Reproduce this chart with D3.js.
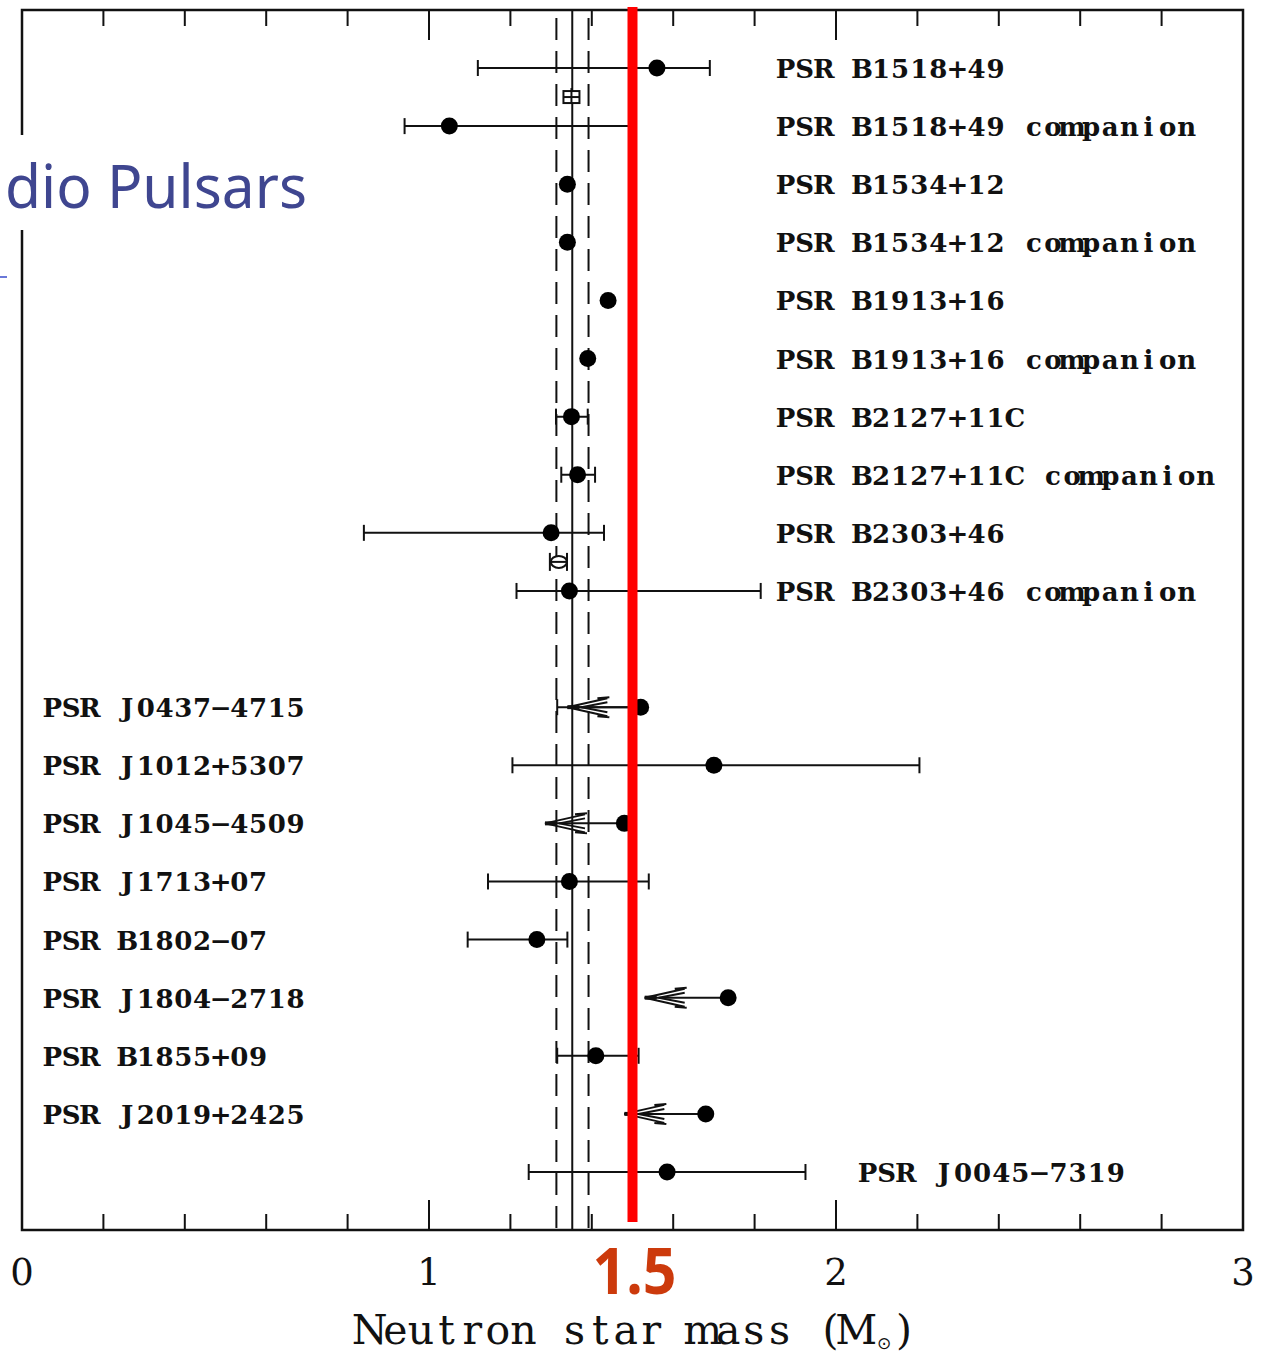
<!DOCTYPE html>
<html>
<head>
<meta charset="utf-8">
<script src="https://cdn.jsdelivr.net/npm/d3@7"></script>
<style>
  html, body { margin: 0; padding: 0; background: #fff; }
  svg { display: block; }
</style>
</head>
<body>
<div id="chart"></div>
<script>
// row data (masses in solar masses)
var pulsarNames = [
  "PSR B1518+49", "PSR B1518+49 companion", "PSR B1534+12", "PSR B1534+12 companion",
  "PSR B1913+16", "PSR B1913+16 companion", "PSR B2127+11C", "PSR B2127+11C companion",
  "PSR B2303+46", "PSR B2303+46 companion",
  "PSR J0437\u22124715", "PSR J1012+5307", "PSR J1045\u22124509", "PSR J1713+07",
  "PSR B1802\u221207", "PSR J1804\u22122718", "PSR B1855+09", "PSR J2019+2425", "PSR J0045\u22127319"
];
var rowSlots = [0, 1, 2, 3, 4, 5, 6, 7, 8, 9, 11, 12, 13, 14, 15, 16, 17, 18, 19];
var masses = [1.56, 1.05, 1.34, 1.34, 1.44, 1.39, 1.35, 1.365, 1.30, 1.345,
              1.52, 1.70, 1.48, 1.345, 1.265, 1.735, 1.41, 1.68, 1.585];
var barLow = [1.12, 0.94, null, null, null, null, 1.312, 1.325, 0.84, 1.215,
              1.315, 1.205, null, 1.145, 1.095, null, 1.315, null, 1.245];
var barHigh = [1.69, 1.50, null, null, null, null, 1.39, 1.408, 1.43, 1.815,
               null, 2.205, null, 1.54, 1.34, null, 1.515, null, 1.925];
var limitTips = [null, null, null, null, null, null, null, null, null, null,
                 1.34, null, 1.285, null, null, 1.53, null, 1.48, null];
var labelSides = ["right", "right", "right", "right", "right", "right", "right", "right", "right", "right",
                  "left", "left", "left", "left", "left", "left", "left", "left", "far"];

// open "total mass" symbols between companion rows
var totalSlots = [0.5, 8.5];
var totalMasses = [1.35, 1.319];
var totalLow = [null, 1.297];
var totalHigh = [null, 1.339];
var totalShapes = ["box", "ring"];

var majorTicks = [0, 1, 2, 3];
var minorTicks = [0.2, 0.4, 0.6, 0.8, 1.2, 1.4, 1.6, 1.8, 2.2, 2.4, 2.6, 2.8];
var meanMass = 1.352;
var meanBand = [1.313, 1.392];
var highlightMass = 1.5;

(function () {
  var W = 1265, H = 1356;
  var frame = { left: 22, right: 1243, top: 10, bottom: 1230 };
  var serif = "'DejaVu Serif', 'Liberation Serif', serif";

  var x = d3.scaleLinear().domain([0, 3]).range([frame.left, frame.right]);
  var y = d3.scaleLinear().domain([0, 19]).range([68, 1172]);

  var svg = d3.select("#chart").append("svg")
    .attr("width", W)
    .attr("height", H)
    .attr("viewBox", "0 0 " + W + " " + H);

  svg.append("rect").attr("width", W).attr("height", H).attr("fill", "#fff");

  // frame
  svg.append("rect")
    .attr("x", frame.left).attr("y", frame.top)
    .attr("width", frame.right - frame.left).attr("height", frame.bottom - frame.top)
    .attr("fill", "none").attr("stroke", "#111").attr("stroke-width", 2.5);

  // ticks on top and bottom
  var tickG = svg.append("g").attr("stroke", "#111").attr("stroke-width", 2);
  function drawTicks(values, len) {
    values.forEach(function (v) {
      if (v === 0 || v === 3) return;
      tickG.append("line").attr("x1", x(v)).attr("x2", x(v))
        .attr("y1", frame.top).attr("y2", frame.top + len);
      tickG.append("line").attr("x1", x(v)).attr("x2", x(v))
        .attr("y1", frame.bottom).attr("y2", frame.bottom - len);
    });
  }
  drawTicks(minorTicks, 16);
  drawTicks(majorTicks, 30);

  // mean mass and band
  var refG = svg.append("g").attr("stroke", "#111").attr("stroke-width", 2).attr("fill", "none");
  refG.append("line").attr("x1", x(meanMass)).attr("x2", x(meanMass))
    .attr("y1", frame.top).attr("y2", frame.bottom);
  meanBand.forEach(function (v) {
    refG.append("line").attr("x1", x(v)).attr("x2", x(v))
      .attr("y1", frame.top + 8).attr("y2", frame.bottom)
      .attr("stroke-dasharray", "22,11");
  });

  // error bars, limits, points
  var rowG = svg.append("g").attr("stroke", "#111").attr("stroke-width", 2).attr("fill", "none");
  masses.forEach(function (m, i) {
    var cy = y(rowSlots[i]);
    var cx = x(m);
    if (barLow[i] != null) {
      var hi = barHigh[i] != null ? barHigh[i] : m;
      rowG.append("line").attr("x1", x(barLow[i])).attr("x2", x(hi)).attr("y1", cy).attr("y2", cy);
      rowG.append("line").attr("x1", x(barLow[i])).attr("x2", x(barLow[i])).attr("y1", cy - 8).attr("y2", cy + 8);
      if (barHigh[i] != null) {
        rowG.append("line").attr("x1", x(hi)).attr("x2", x(hi)).attr("y1", cy - 8).attr("y2", cy + 8);
      }
    }
    if (limitTips[i] != null) {
      var xt = x(limitTips[i]);
      rowG.append("line").attr("x1", xt).attr("x2", cx).attr("y1", cy).attr("y2", cy);
      rowG.append("path")
        .attr("d", "M" + (xt + 40) + "," + (cy - 9) + " L" + xt + "," + cy + " L" + (xt + 40) + "," + (cy + 9) +
          " M" + (xt + 40) + "," + (cy - 5) + " L" + (xt + 14) + "," + cy + " L" + (xt + 40) + "," + (cy + 5) +
          " M" + (xt + 30) + "," + (cy - 9) + " L" + (xt + 42) + "," + (cy - 10) +
          " M" + (xt + 30) + "," + (cy + 9) + " L" + (xt + 42) + "," + (cy + 10));
      rowG.append("line").attr("x1", xt).attr("x2", xt + 12).attr("y1", cy).attr("y2", cy)
        .attr("stroke-width", 4);
    }
    svg.append("circle").attr("cx", cx).attr("cy", cy).attr("r", 8.5).attr("fill", "#000");
  });

  // total-mass open symbols
  totalMasses.forEach(function (m, i) {
    var cy = y(totalSlots[i]);
    var cx = x(m);
    if (totalLow[i] != null) {
      rowG.append("line").attr("x1", x(totalLow[i])).attr("x2", x(totalHigh[i])).attr("y1", cy).attr("y2", cy);
      [totalLow[i], totalHigh[i]].forEach(function (v) {
        rowG.append("line").attr("x1", x(v)).attr("x2", x(v)).attr("y1", cy - 9).attr("y2", cy + 9);
      });
    }
    if (totalShapes[i] === "box") {
      rowG.append("rect").attr("x", cx - 8).attr("y", cy - 6).attr("width", 16).attr("height", 12)
        .attr("fill", "#fff");
      rowG.append("line").attr("x1", cx - 8).attr("x2", cx + 8).attr("y1", cy).attr("y2", cy);
      rowG.append("line").attr("x1", cx).attr("x2", cx).attr("y1", cy - 9).attr("y2", cy + 6);
    } else {
      rowG.append("ellipse").attr("cx", cx).attr("cy", cy).attr("rx", 8).attr("ry", 6).attr("fill", "#fff");
      rowG.append("line").attr("x1", cx - 8).attr("x2", cx + 8).attr("y1", cy).attr("y2", cy);
    }
  });

  // one glyph per cell, like the old plotting font
  function cellText(str, x0, yBase, adv, size, weight) {
    var chars = Array.from(str);
    return svg.append("text")
      .attr("x", chars.map(function (c, k) { return x0 + adv * (k + 0.5); }).join(" "))
      .attr("y", yBase)
      .attr("text-anchor", "middle")
      .attr("font-family", serif)
      .attr("font-size", size)
      .attr("font-weight", weight || "normal")
      .attr("fill", "#111")
      .text(str);
  }

  pulsarNames.forEach(function (name, i) {
    var side = labelSides[i];
    var x0 = side === "right" ? 776 : (side === "left" ? 43 : 858);
    var adv = side === "left" ? 18.7 : 19.1;
    cellText(name, x0, y(rowSlots[i]) + 10, adv, 26, "bold");
  });

  // the 1.5 marker
  svg.append("line")
    .attr("x1", x(highlightMass)).attr("x2", x(highlightMass))
    .attr("y1", 7).attr("y2", 1222)
    .attr("stroke", "#ff0000").attr("stroke-width", 10);

  // axis numbers and title
  majorTicks.forEach(function (v) {
    svg.append("text")
      .attr("x", x(v)).attr("y", 1285)
      .attr("text-anchor", "middle")
      .attr("font-family", serif)
      .attr("font-size", 37)
      .attr("fill", "#111")
      .text(d3.format("d")(v));
  });

  svg.append("text")
    .attr("x", x(highlightMass) + 2).attr("y", 1294)
    .attr("text-anchor", "middle")
    .attr("font-family", "'Noto Sans', 'DejaVu Sans', sans-serif")
    .attr("font-weight", "bold")
    .attr("font-size", 64)
    .attr("textLength", 84)
    .attr("lengthAdjust", "spacingAndGlyphs")
    .attr("fill", "#cc3a0c")
    .text("1.5");

  cellText("Neutron star mass (M", 357, 1344, 25.6, 41);
  svg.append("text")
    .attr("x", 884).attr("y", 1349)
    .attr("text-anchor", "middle")
    .attr("font-family", "'DejaVu Sans', sans-serif")
    .attr("font-size", 17)
    .attr("fill", "#111")
    .text("\u2299");
  svg.append("text")
    .attr("x", 904).attr("y", 1344)
    .attr("text-anchor", "middle")
    .attr("font-family", serif)
    .attr("font-size", 41)
    .attr("fill", "#111")
    .text(")");

  // slide title fragment overlapping the plot
  svg.append("rect").attr("x", 0).attr("y", 135).attr("width", 312).attr("height", 95).attr("fill", "#fff");
  svg.append("text")
    .attr("x", 5).attr("y", 208)
    .attr("font-family", "'Noto Sans', 'DejaVu Sans', sans-serif")
    .attr("font-size", 60)
    .attr("textLength", 302)
    .attr("lengthAdjust", "spacingAndGlyphs")
    .attr("fill", "#3f4690")
    .text("dio Pulsars");
  svg.append("line").attr("x1", 0).attr("x2", 7).attr("y1", 277).attr("y2", 277)
    .attr("stroke", "#6a78d8").attr("stroke-width", 2);
})();
</script>
</body>
</html>
